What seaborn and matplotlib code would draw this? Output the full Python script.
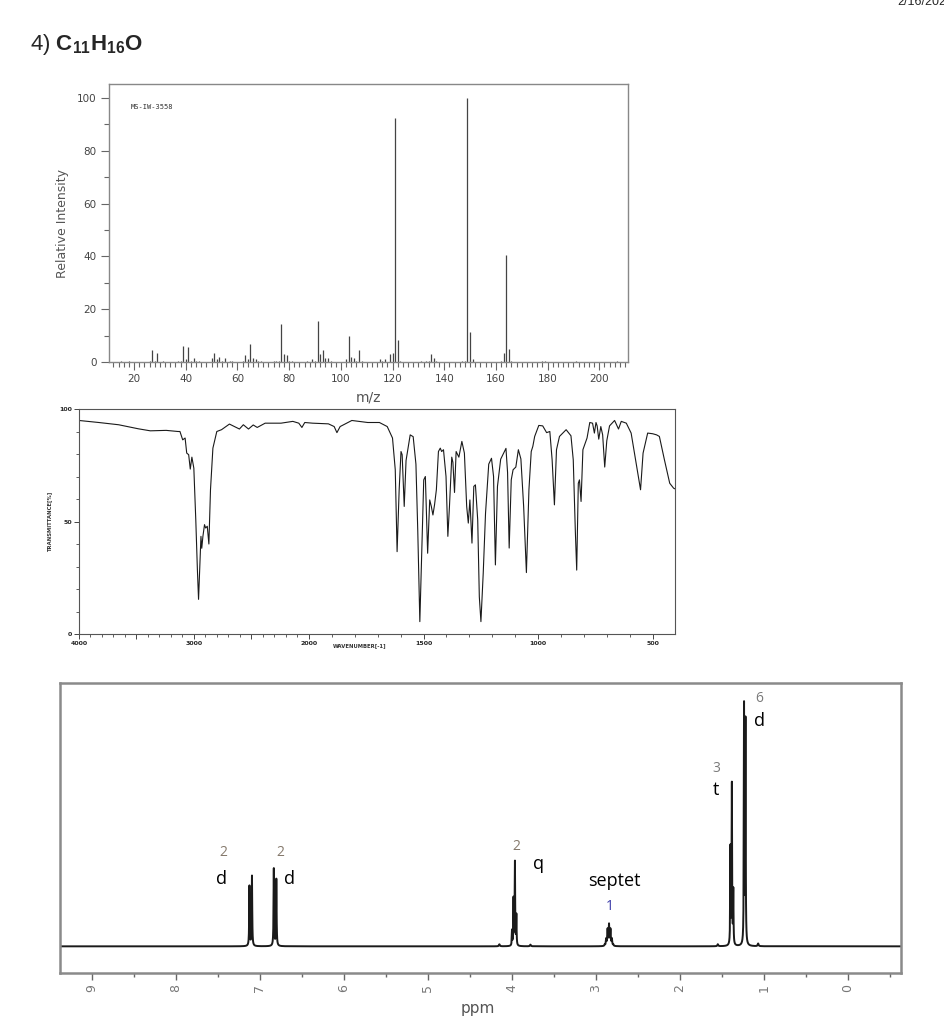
import numpy as np
import pandas as pd
import matplotlib
matplotlib.use("Agg")
import matplotlib.pyplot as plt
import seaborn as sns
from matplotlib.ticker import MultipleLocator, FixedLocator, NullFormatter

# ---------------- data ----------------
# Mass spectrum (m/z, relative intensity)
ms_mz = [15, 18, 26, 27, 28, 29, 31, 37, 38, 39, 40, 41, 42, 43, 44, 45,
         50, 51, 52, 53, 54, 55, 57, 58, 62, 63, 64, 65, 66, 67, 68, 69,
         74, 75, 76, 77, 78, 79, 80, 81, 87, 89, 90, 91, 92, 93, 94, 95, 96,
         102, 103, 104, 105, 106, 107, 108, 115, 116, 117, 119, 120, 121, 122, 123,
         131, 133, 134, 135, 136, 137, 147, 148, 149, 150, 151, 162, 163, 164, 165, 166,
         178, 179, 191, 207]
ms_int = [0.5, 0.3, 0.5, 4.5, 0.5, 3.5, 0.3, 0.3, 0.5, 6.0, 1.0, 5.5, 0.5, 1.5, 0.5, 0.3,
          1.5, 3.5, 1.0, 2.0, 0.5, 1.5, 0.3, 0.3, 0.5, 2.5, 1.0, 7.0, 1.5, 1.0, 0.5, 0.3,
          0.5, 0.5, 0.5, 14.5, 3.0, 2.5, 0.3, 0.3, 0.3, 1.0, 0.5, 15.5, 3.0, 4.5, 1.5, 1.5, 0.3,
          1.0, 10.0, 2.0, 1.5, 0.5, 4.5, 0.5, 1.0, 0.5, 1.0, 3.0, 3.5, 92.5, 8.5, 0.5,
          0.3, 0.5, 0.5, 3.0, 1.5, 0.3, 0.5, 0.5, 100.0, 11.5, 1.0, 0.5, 3.5, 40.5, 5.0, 0.3,
          0.5, 0.3, 0.3, 0.3]
ms_ticks = [20, 40, 60, 80, 100, 120, 140, 160, 180, 200]

# IR spectrum (wavenumber, %T)
ir_wn = [4000, 3828, 3655, 3483, 3379, 3241, 3138, 3121, 3097, 3076, 3062, 3045, 3031,
         3017, 3000, 2983, 2969, 2959, 2948, 2938, 2931, 2921, 2907, 2897, 2883, 2869,
         2855, 2834, 2800, 2759, 2690, 2603, 2569, 2524, 2483, 2448, 2379, 2241, 2138,
         2086, 2059, 2034, 1983, 1914, 1889, 1877, 1863, 1812, 1743, 1692, 1658, 1635,
         1623, 1615, 1606, 1598, 1593, 1584, 1576, 1558, 1545, 1533, 1525, 1516, 1507,
         1499, 1492, 1482, 1473, 1466, 1459, 1452, 1444, 1435, 1427, 1421, 1413, 1402,
         1394, 1387, 1377, 1372, 1365, 1358, 1346, 1333, 1322, 1312, 1305, 1298, 1289,
         1281, 1274, 1264, 1257, 1250, 1240, 1230, 1216, 1204, 1195, 1187, 1178, 1164,
         1151, 1141, 1134, 1127, 1118, 1110, 1098, 1087, 1076, 1064, 1052, 1041, 1031,
         1024, 1016, 998, 981, 964, 950, 940, 930, 921, 908, 879, 858, 848, 839, 833,
         826, 821, 814, 806, 788, 776, 764, 756, 749, 744, 737, 728, 720, 711, 702, 690,
         668, 651, 639, 617, 596, 579, 562, 555, 544, 524, 502, 485, 473, 451, 428, 411, 405]
ir_T = [94.9, 94.0, 93.0, 91.2, 90.3, 90.5, 90.0, 90.0, 86.3, 87.1, 80.4, 79.7, 73.3,
        78.6, 73.7, 50.7, 28.5, 15.4, 30.0, 43.4, 38.1, 43.4, 48.6, 47.1, 47.9, 40.0,
        64.1, 82.6, 90.0, 90.8, 93.3, 91.1, 93.0, 91.1, 92.9, 91.8, 93.7, 93.7, 94.5,
        93.7, 91.8, 94.0, 93.7, 93.4, 92.2, 89.5, 92.2, 94.9, 94.0, 94.0, 92.2, 87.1,
        73.0, 36.6, 64.1, 81.1, 79.7, 56.7, 77.1, 88.5, 87.7, 75.5, 45.9, 5.5, 38.9,
        68.5, 70.0, 35.9, 59.6, 56.7, 52.9, 57.4, 64.1, 81.1, 82.6, 81.1, 81.9, 70.0,
        43.4, 56.7, 78.6, 76.3, 62.9, 81.1, 78.6, 85.6, 80.4, 56.7, 49.3, 59.6, 40.4,
        65.6, 66.3, 50.7, 16.5, 5.5, 27.0, 53.6, 75.5, 78.1, 70.0, 30.7, 65.6, 77.7,
        80.4, 82.5, 71.8, 38.2, 68.5, 73.0, 74.2, 81.9, 77.8, 56.7, 27.3, 64.1, 81.1,
        83.4, 87.8, 92.7, 92.5, 89.5, 90.0, 77.4, 57.4, 81.9, 87.8, 90.8, 88.1, 77.4, 45.9, 28.4,
        67.0, 68.5, 58.9, 81.9, 87.1, 94.0, 93.7, 89.3, 94.0, 92.5, 86.6, 92.2, 88.5, 74.2, 85.9, 92.5,
        94.9, 91.1, 94.5, 93.7, 89.3, 78.9, 68.5, 64.1, 80.4, 89.3, 89.0, 88.5, 87.8, 77.4, 67.0, 64.8, 64.5]
ir_xticks = [4000, 3500, 3000, 2500, 2000, 1500, 1000, 500]
ir_xticklabels = ["4000", "", "3000", "", "2000", "1500", "1000", "500"]

# 1H NMR lines (ppm, height, half-width)
nmr_shift = [7.125, 7.095, 6.835, 6.805,
             4.000, 3.982, 3.965, 3.948,
             2.896, 2.879, 2.862, 2.845, 2.828, 2.811, 2.794,
             1.400, 1.383, 1.366, 1.238, 1.221,
             4.15, 3.78, 1.55, 1.07]
nmr_height = [180, 210, 232, 200,
              45, 140, 250, 90,
              4, 20, 48, 62, 48, 20, 4,
              290, 480, 160, 715, 668,
              6, 5, 6, 8]
nmr_width = [0.0035] * 4 + [0.003] * 4 + [0.0045] * 7 + [0.003] * 5 + [0.006] * 4

nmr_ann_text = ["2", "d", "2", "d", "2", "q", "septet", "1", "3", "t", "6", "d"]
nmr_ann_x = [7.44, 7.46, 6.76, 6.65, 3.95, 3.69, 2.78, 2.84, 1.57, 1.57, 1.06, 1.06]
nmr_ann_y = [281, 203, 280, 203, 300, 248, 196, 121, 533, 470, 743, 675]
nmr_ann_color = ["#85796c", "black", "#85796c", "black", "#85796c", "black", "black",
                 "#3a3aa8", "#7a7a7a", "black", "#7a7a7a", "black"]
nmr_ann_size = [10, 13, 10, 13, 10, 13, 13, 10, 10, 13, 10, 13]

# ---------------- style ----------------
sns.set_theme(style="white")
plt.rcParams["font.family"] = ["DejaVu Sans"]
plt.rcParams["mathtext.fontset"] = "custom"
plt.rcParams["mathtext.rm"] = "Liberation Sans"
plt.rcParams["mathtext.bf"] = "Liberation Sans:bold"

W, H = 944, 1024
fig = plt.figure(figsize=(W / 100, H / 100), dpi=100)
fig.patch.set_facecolor("white")


def box(l, t, r, b):
    return [l / W, 1 - b / H, (r - l) / W, (b - t) / H]


# header texts
fig.text(30 / W, 1 - 50 / H, r"4) $\mathbf{C_{11}H_{16}O}$", fontsize=16,
         family="Liberation Sans", ha="left", va="baseline")
fig.text(897 / W, 1 - 5 / H, "2/16/2021", fontsize=9, family="Liberation Sans",
         ha="left", va="baseline")

# ---------------- mass spectrum ----------------
ax1 = fig.add_axes(box(109, 84, 628, 362))
ms_df = pd.DataFrame({"mz": ms_mz, "intensity": ms_int})
ax1.vlines(ms_df["mz"], 0, ms_df["intensity"], color="#444444", lw=0.9)
ax1.set_xlim(10.3, 211.1)
ax1.set_ylim(0, 105.3)
ax1.set_xticks(ms_ticks)
ax1.xaxis.set_minor_locator(MultipleLocator(2))
ax1.set_yticks([0, 20, 40, 60, 80, 100])
ax1.yaxis.set_minor_locator(MultipleLocator(10))
ax1.tick_params(axis="both", which="major", direction="out", length=6, width=0.8,
                color="#666666", labelsize=7.5, labelcolor="#444444",
                bottom=True, left=True, pad=3)
ax1.tick_params(axis="both", which="minor", direction="out", length=3.5, width=0.8,
                color="#666666", bottom=True, left=True)
for s in ax1.spines.values():
    s.set_color("#888888")
    s.set_linewidth(1.0)
ax1.set_ylabel("Relative Intensity", fontsize=9, color="#555555", labelpad=6)
ax1.set_xlabel("m/z", fontsize=10, color="#555555", labelpad=4)
ax1.text(0.042, 0.917, "MS-IW-3558", transform=ax1.transAxes, fontsize=5,
         family="DejaVu Sans Mono", color="#333333", va="center")

# ---------------- IR spectrum ----------------
ax2 = fig.add_axes(box(79, 409, 675, 634))


def fwd(x):
    x = np.asarray(x, dtype=float)
    return np.where(x > 2000, 2000 + (x - 2000) / 2.0, x)


def inv(t):
    t = np.asarray(t, dtype=float)
    return np.where(t > 2000, 2000 + 2.0 * (t - 2000), t)


ax2.set_xscale("function", functions=(fwd, inv))
ir_df = pd.DataFrame({"wn": ir_wn, "T": ir_T})
sns.lineplot(data=ir_df, x="wn", y="T", ax=ax2, color="#1a1a1a", lw=0.8,
             sort=False, estimator=None)
ax2.set_xlim(4000, 405)
ax2.set_ylim(0, 100)
ax2.set_xticks(ir_xticks)
ax2.set_xticklabels(ir_xticklabels)
ax2.xaxis.set_minor_locator(FixedLocator(list(range(500, 4000, 100))))
ax2.xaxis.set_minor_formatter(NullFormatter())
ax2.set_yticks([0, 50, 100])
ax2.yaxis.set_minor_locator(MultipleLocator(10))
ax2.tick_params(axis="both", which="major", direction="out", length=3.5, width=0.7,
                color="#444444", labelsize=4.5, bottom=True, left=True, pad=1.5)
ax2.tick_params(axis="both", which="minor", direction="out", length=2, width=0.6,
                color="#444444", bottom=True, left=True)
for lab in ax2.get_xticklabels() + ax2.get_yticklabels():
    lab.set_fontweight("bold")
for s in ax2.spines.values():
    s.set_color("#555555")
    s.set_linewidth(0.8)
ax2.set_xlabel("")
ax2.set_ylabel("TRANSMITTANCE[%]", fontsize=3.8, fontweight="bold", color="#333333",
               labelpad=5)
fig.text(360 / W, 1 - 646 / H, "WAVENUMBER[-1]", fontsize=3.8, fontweight="bold",
         color="#333333", ha="center", va="center")

# ---------------- 1H NMR ----------------
ax3 = fig.add_axes(box(60, 683, 901, 973))
ppm = np.arange(-0.63, 9.38, 0.0005)
sig = np.zeros_like(ppm)
for c, h, w in zip(nmr_shift, nmr_height, nmr_width):
    sig += h / (1.0 + ((ppm - c) / w) ** 2)
nmr_df = pd.DataFrame({"ppm": ppm, "signal": sig})
sns.lineplot(data=nmr_df, x="ppm", y="signal", ax=ax3, color="#1a1a1a", lw=1.4,
             sort=False, estimator=None)
ax3.set_xlim(9.38, -0.63)
ax3.set_ylim(-80, 790)
ax3.set_xticks(list(range(0, 10)))
ax3.xaxis.set_minor_locator(MultipleLocator(0.5))
ax3.set_yticks([])
ax3.tick_params(axis="x", which="major", direction="out", length=5, width=1.0,
                color="#666666", labelsize=9, labelcolor="#777777", bottom=True,
                labelrotation=90, pad=3)
ax3.tick_params(axis="x", which="minor", direction="out", length=3, width=1.0,
                color="#666666", bottom=True)
for s in ax3.spines.values():
    s.set_color("#8a8a8a")
    s.set_linewidth(1.8)
ax3.set_xlabel("")
ax3.set_ylabel("")
for t, x, y, c, fs in zip(nmr_ann_text, nmr_ann_x, nmr_ann_y, nmr_ann_color, nmr_ann_size):
    ax3.text(x, y, t, color=c, fontsize=fs, family="Open Sans", ha="center", va="center")
fig.text(478 / W, 1 - 1008 / H, "ppm", fontsize=11, color="#555555", ha="center",
         va="center")

fig.savefig("out.png", dpi=100, facecolor="white")
